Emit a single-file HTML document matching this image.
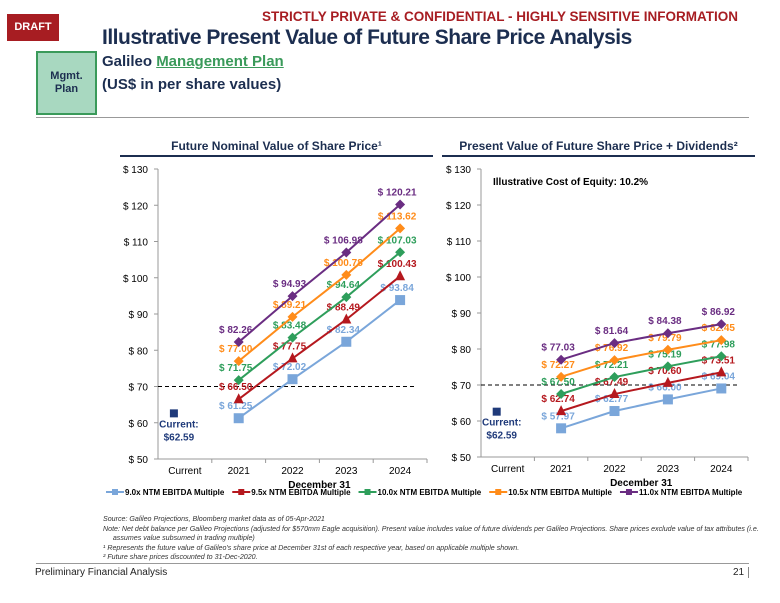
<!DOCTYPE html>
<html><head><meta charset="utf-8">
<style>
body{margin:0;width:780px;height:603px;background:#fff;font-family:"Liberation Sans",Arial,sans-serif;position:relative;overflow:hidden}
.a{position:absolute;margin:0;white-space:nowrap}
</style></head>
<body>
<div class="a" style="left:7px;top:14px;width:52px;height:27px;background:#a71d22;color:#fff;font-size:11px;font-weight:bold;line-height:27px;text-align:center">DRAFT</div>
<div class="a" style="left:262px;top:9px;color:#a71d22;font-size:13.5px;font-weight:bold">STRICTLY PRIVATE &amp; CONFIDENTIAL - HIGHLY SENSITIVE INFORMATION</div>
<div class="a" style="left:36px;top:51px;width:61px;height:64px;background:#a8d8c0;border:2px solid #3a9a5a;color:#1c2e50;font-size:11px;font-weight:bold;text-align:center;line-height:13px;padding-top:17px;box-sizing:border-box">Mgmt.<br>Plan</div>
<div class="a" style="left:102px;top:26px;color:#1c2e50;font-size:21px;font-weight:bold;letter-spacing:-0.5px">Illustrative Present Value of Future Share Price Analysis</div>
<div class="a" style="left:102px;top:53px;color:#1c2e50;font-size:15px;font-weight:bold">Galileo <span style="color:#3a9a5a;text-decoration:underline">Management Plan</span></div>
<div class="a" style="left:102px;top:76px;color:#1c2e50;font-size:15px;font-weight:bold">(US$ in per share values)</div>
<div class="a" style="left:36px;top:117px;width:713px;height:1px;background:#999"></div>
<div class="a" style="left:120px;top:139px;width:313px;text-align:center;color:#1c2e50;font-size:12px;font-weight:bold">Future Nominal Value of Share Price¹</div>
<div class="a" style="left:442px;top:139px;width:313px;text-align:center;color:#1c2e50;font-size:12px;font-weight:bold">Present Value of Future Share Price + Dividends²</div>
<div class="a" style="left:120px;top:155px;width:313px;height:2px;background:#1c2e50"></div>
<div class="a" style="left:442px;top:155px;width:313px;height:2px;background:#1c2e50"></div>
<svg class="a" style="left:0;top:0" width="780" height="603" id="chart"></svg>
<div class="a" style="left:103px;top:515px;font-size:7.1px;font-style:italic;color:#333;line-height:9.5px">Source: Galileo Projections, Bloomberg market data as of 05-Apr-2021<br>Note: Net debt balance per Galileo Projections (adjusted for $570mm Eagle acquisition). Present value includes value of future dividends per Galileo Projections. Share prices exclude value of tax attributes (i.e.<br>&nbsp;&nbsp;&nbsp;&nbsp;&nbsp;assumes value subsumed in trading multiple)<br>¹ Represents the future value of Galileo's share price at December 31st of each respective year, based on applicable multiple shown.<br>² Future share prices discounted to 31-Dec-2020.</div>
<div class="a" style="left:36px;top:563px;width:713px;height:1px;background:#999"></div>
<div class="a" style="left:35px;top:567px;font-size:10px;color:#222">Preliminary Financial Analysis</div>
<div class="a" style="left:733px;top:567px;font-size:10px;color:#222;border-right:1px solid #888;padding-right:4px">21</div>
<script>
const categories=["Current","2021","2022","2023","2024"];
const yTicks=[50,60,70,80,90,100,110,120,130];
const seriesNames=["9.0x NTM EBITDA Multiple","9.5x NTM EBITDA Multiple","10.0x NTM EBITDA Multiple","10.5x NTM EBITDA Multiple","11.0x NTM EBITDA Multiple"];
const colors=["#7aa6da","#b5181e","#2e9e5b","#ff8c1a","#6a2d82"];
const markers=["square","triangle","diamond","diamond","diamond"];
const currentPrice=62.59;
const refLine=70;
const nominal9_0=[61.25,72.02,82.34,93.84];
const nominal9_5=[66.50,77.75,88.49,100.43];
const nominal10_0=[71.75,83.48,94.64,107.03];
const nominal10_5=[77.00,89.21,100.78,113.62];
const nominal11_0=[82.26,94.93,106.98,120.21];
const pv9_0=[57.97,62.77,66.00,69.04];
const pv9_5=[62.74,67.49,70.60,73.51];
const pv10_0=[67.50,72.21,75.19,77.98];
const pv10_5=[72.27,76.92,79.79,82.45];
const pv11_0=[77.03,81.64,84.38,86.92];
const svg=document.getElementById('chart');const NS="http://www.w3.org/2000/svg";
function mk(t,a,p){const e=document.createElementNS(NS,t);for(const k in a)e.setAttribute(k,a[k]);(p||svg).appendChild(e);return e;}
function draw(cfg){
 const g=mk('g',{});
 
 
 const y=v=>cfg.y0+(v-50)/80*(cfg.y1-cfg.y0);
 const x=i=>cfg.x0+cfg.cw*(i+0.5);
 const xEnd=cfg.x0+cfg.cw*categories.length;
 const ax=mk('line',{x1:cfg.x0,y1:cfg.y1,x2:cfg.x0,y2:cfg.y0,stroke:'#999'},g);
 
 const bx=mk('line',{x1:cfg.x0,y1:cfg.y0,x2:xEnd,y2:cfg.y0,stroke:'#999'},g);
 
 yTicks.forEach(v=>{mk('line',{x1:cfg.x0-4,x2:cfg.x0,y1:y(v),y2:y(v),stroke:'#999'},g);
  const t=mk('text',{x:cfg.x0-10,y:y(v)+4,'text-anchor':'end','font-size':10,fill:'#000'},g);t.textContent='$ '+v;
  });
 categories.forEach((c,i)=>{mk('line',{x1:cfg.x0+cfg.cw*(i+1),x2:cfg.x0+cfg.cw*(i+1),y1:cfg.y0,y2:cfg.y0+4,stroke:'#999'},g);
  const t=mk('text',{x:x(i),y:cfg.y0+15,'text-anchor':'middle','font-size':10,fill:'#000'},g);t.textContent=c;
  });
 const xt=mk('text',{x:(x(1)+x(4))/2,y:cfg.y0+29,'text-anchor':'middle','font-size':10,'font-weight':'bold',fill:'#000'},g);xt.textContent='December 31';
 
 const dl=mk('line',{x1:cfg.x0,x2:xEnd-10,y1:y(refLine),y2:y(refLine),stroke:'#000','stroke-dasharray':'4,3'},g);
 
 cfg.series.forEach((d,s)=>{
  const pts=d.map((v,i)=>[x(i+1),y(v)]);
  const l=mk('polyline',{points:pts.map(p=>p.join(',')).join(' '),fill:'none',stroke:colors[s],'stroke-width':2},g);
  
  pts.forEach((p,i)=>{let m;const c=colors[s];
   if(markers[s]==='square')m=mk('rect',{x:p[0]-5,y:p[1]-5,width:10,height:10,fill:c},g);
   else if(markers[s]==='triangle')m=mk('polygon',{points:`${p[0]},${p[1]-6} ${p[0]-5},${p[1]+4} ${p[0]+5},${p[1]+4}`,fill:c},g);
   else m=mk('polygon',{points:`${p[0]},${p[1]-5} ${p[0]+5},${p[1]} ${p[0]},${p[1]+5} ${p[0]-5},${p[1]}`,fill:c},g);
   
   const t=mk('text',{x:p[0]-3,y:p[1]-9,'text-anchor':'middle','font-size':10,'font-weight':'bold',fill:c},g);
   t.textContent='$ '+d[i].toFixed(2);
   });
 });
 const cm=mk('rect',{x:x(0)-15,y:y(currentPrice)-4,width:8,height:8,fill:'#1f3a7a'},g);
 
 const ct=mk('text',{x:x(0)-6,y:y(currentPrice)+14,'text-anchor':'middle','font-size':10,'font-weight':'bold',fill:'#1f3a7a'},g);
 
 mk('tspan',{x:x(0)-6,dy:0},ct).textContent='Current:';
 mk('tspan',{x:x(0)-6,dy:13},ct).textContent='$'+currentPrice.toFixed(2);
 if(cfg.note){const n=mk('text',{x:cfg.x0+12,y:cfg.y1+16,'font-size':10,'font-weight':'bold',fill:'#000'},g);n.textContent=cfg.note;
  }
}
draw({name:'nominal-chart',x0:158,cw:53.8,y0:459,y1:169,series:[nominal9_0,nominal9_5,nominal10_0,nominal10_5,nominal11_0]});
draw({name:'pv-chart',x0:481,cw:53.4,y0:457,y1:169,series:[pv9_0,pv9_5,pv10_0,pv10_5,pv11_0],note:'Illustrative Cost of Equity: 10.2%'});
const lg=mk('g',{});


let lx=106;
seriesNames.forEach((n,s)=>{
 const e=mk('g',{},lg);
 
 
 mk('line',{x1:lx,x2:lx+18,y1:492,y2:492,stroke:colors[s],'stroke-width':2},e);
 mk('rect',{x:lx+6,y:489,width:6,height:6,fill:colors[s]},e);
 const t=mk('text',{x:lx+19,y:495,'font-size':8,'font-weight':'bold',fill:'#000'},e);t.textContent=n;
 lx+=19+t.getComputedTextLength()+8;
});
</script>
</body></html>
